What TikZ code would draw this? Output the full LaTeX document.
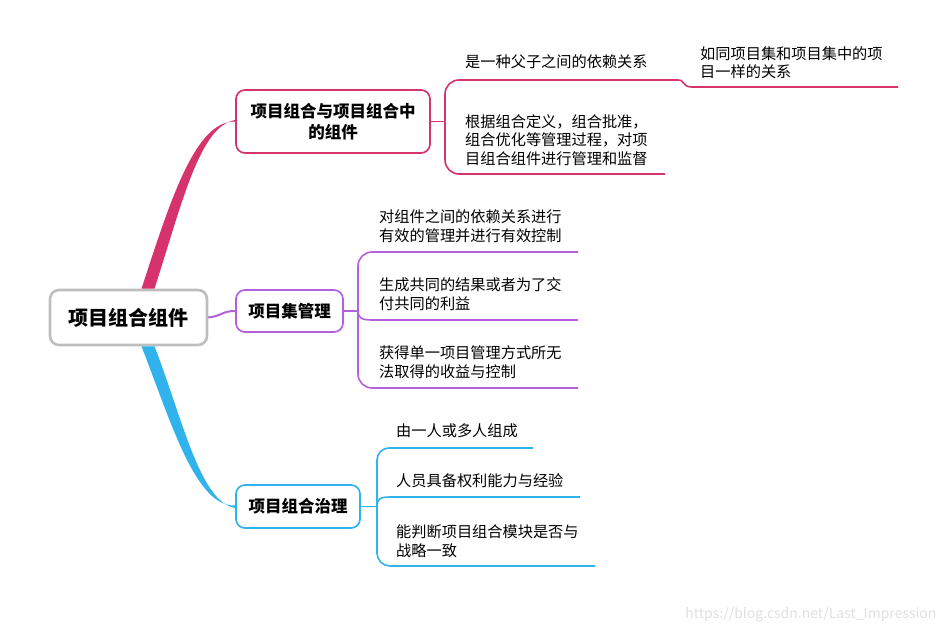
\documentclass[tikz,border=0pt]{standalone}
\usepackage{fontspec}
\setmainfont{Noto Sans CJK SC}
\usepackage{tikz}

\definecolor{rosered}{RGB}{214,51,108}
\definecolor{lilac}{RGB}{178,96,220}
\definecolor{skyblue}{RGB}{48,178,236}
\definecolor{boxgray}{RGB}{190,190,190}

\begin{document}
\begin{tikzpicture}[x=1pt,y=-1pt,
  rootbox/.style={draw=boxgray,line width=2.6pt,rounded corners=9pt,fill=white,
    minimum width=157pt,minimum height=55pt,font=\fontsize{20}{24}\selectfont\bfseries},
  topicbox/.style={line width=1.7pt,rounded corners=9pt,fill=white,align=center,
    font=\fontsize{16.5}{21}\selectfont\bfseries},
  leaf/.style={anchor=west,align=left,inner sep=0pt,font=\fontsize{15.2}{18.5}\selectfont},
  twig/.style={line width=1.6pt}]
\useasboundingbox (0,0) rectangle (948,636);

\node[rootbox] (root) at (128.5,317.5) {项目组合组件};
\node[topicbox,draw=rosered,minimum width=194pt,minimum height=63pt] (comp) at (333,121.5) {项目组合与项目组合中\\的组件};
\node[topicbox,draw=lilac,minimum width=107pt,minimum height=42pt] (prog) at (289.5,311) {项目集管理};
\node[topicbox,draw=skyblue,minimum width=124pt,minimum height=43pt] (gov) at (298,506.5) {项目组合治理};

% main branches
\fill[rosered] ([xshift=13pt]root.north) .. controls (172,195) and (196,121) .. (comp.west)
  -- ([yshift=1.5pt]comp.west) .. controls (200,126) and (183,200) .. ([xshift=26pt]root.north) -- cycle;
\draw[lilac,line width=2pt] (root.east) .. controls (222,316) and (222,311) .. (prog.west);
\fill[skyblue] ([xshift=13pt]root.south) .. controls (172,425) and (196,507) .. ([yshift=1pt]gov.west)
  -- ([yshift=-1.5pt]gov.west) .. controls (200,502) and (183,420) .. ([xshift=26pt]root.south) -- cycle;

% first topic
\coordinate (j1) at (445,121.5);
\draw[twig,rosered] (comp.east) -- (j1);
\draw[twig,rosered,rounded corners=14pt] (j1) |- (678,80) coordinate (u11);
\draw[twig,rosered] (u11) .. controls (685,80) and (682,87) .. (692,87) -- (898,87);
\draw[twig,rosered,rounded corners=14pt] (j1) |- (665,174);
\node[leaf] (dep) at (465,62) {是一种父子之间的依赖关系};
\node[leaf] (same) at (700,62.5) {如同项目集和项目集中的项\\目一样的关系};
\node[leaf] (mgmt) at (465,140) {根据组合定义，组合批准，\\组合优化等管理过程，对项\\目组合组件进行管理和监督};

% second topic
\coordinate (j2) at (358,311);
\draw[twig,lilac] (prog.east) -- (j2);
\draw[twig,lilac,rounded corners=14pt] (j2) |- (578,252);
\draw[twig,lilac] (j2) .. controls (358,318) and (362,320) .. (372,320) -- (578,320);
\draw[twig,lilac,rounded corners=14pt] (j2) |- (578,388);
\node[leaf] (ctrl) at (379,226) {对组件之间的依赖关系进行\\有效的管理并进行有效控制};
\node[leaf] (share) at (379,294) {生成共同的结果或者为了交\\付共同的利益};
\node[leaf] (gain) at (379,362) {获得单一项目管理方式所无\\法取得的收益与控制};

% third topic
\coordinate (j3) at (377,506.5);
\draw[twig,skyblue] (gov.east) -- (j3);
\draw[twig,skyblue,rounded corners=12pt] (j3) |- (533,448);
\draw[twig,skyblue] (j3) .. controls (377,499) and (380,497) .. (390,497) -- (580,497);
\draw[twig,skyblue,rounded corners=13pt] (j3) |- (595,566);
\node[leaf] (who) at (396,431) {由一人或多人组成};
\node[leaf] (able) at (396,481) {人员具备权利能力与经验};
\node[leaf] (judge) at (396,541) {能判断项目组合模块是否与\\战略一致};

\node[anchor=east,text=black!12,font=\fontsize{14}{16}\selectfont] (mark) at (940,615) {https://blog.csdn.net/Last\_Impression};
\end{tikzpicture}
\end{document}
